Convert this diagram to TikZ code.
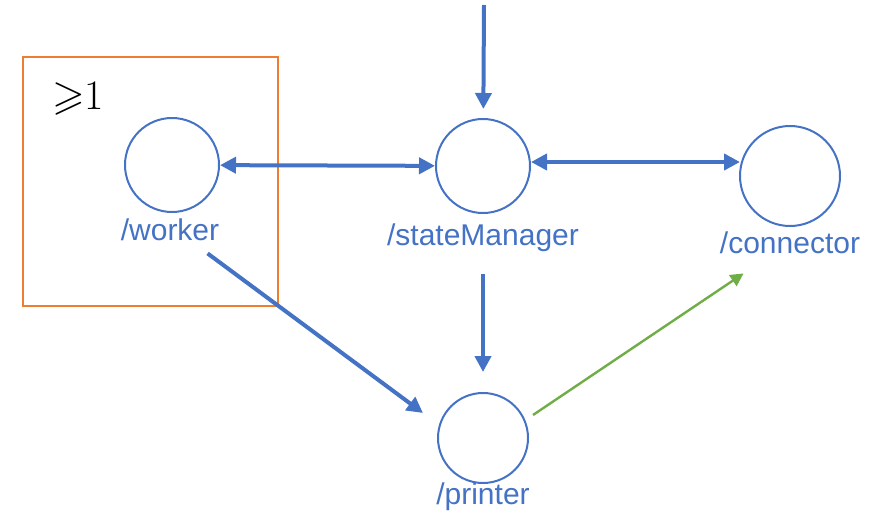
\documentclass[tikz,border=0pt]{standalone}
\usepackage{amssymb}
\usepackage{fontspec}
\setsansfont{Liberation Sans}
\usetikzlibrary{arrows.meta,calc}
\definecolor{mblue}{HTML}{4472C4}
\definecolor{morange}{HTML}{ED7D31}
\definecolor{mgreen}{HTML}{70AD47}
\begin{document}
\begin{tikzpicture}[x=0.5pt,y=-0.5pt,
  proc/.style={circle,draw=mblue,line width=1pt,inner sep=0pt,minimum size=#1},
  lbl/.style={text=mblue,inner sep=0pt,font=\sffamily\fontsize{15}{18}\selectfont},
  flow/.style={draw=mblue,line width=2pt,-{Triangle[length=8pt,width=8pt]}},
  dflow/.style={draw=mblue,line width=2pt,{Triangle[length=8pt,width=8pt]}-{Triangle[length=8pt,width=8pt]}},
  gflow/.style={draw=mgreen,line width=1.2pt,-{Triangle[length=6.5pt,width=6.5pt]}}]
\useasboundingbox (0,0) rectangle (872,524);
\node (grp) [draw=morange,line width=1pt,inner sep=0pt,minimum width=127.5pt,minimum height=124.5pt] at (150.5,181.5) {};
\node (cnt) at (78,98) {\fontsize{21}{24}\selectfont$\geqslant$1};
\node (w)  [proc=47pt] at (172,165) {};
\node (sm) [proc=47pt] at (483,166) {};
\node (cn) [proc=50pt] at (790,176) {};
\node (pr) [proc=45pt] at (483,438) {};
\node (wl)  [lbl] at (170,230) {/worker};
\node (sml) [lbl] at (483,238) {/stateManager};
\node (cnl) [lbl] at (790,243) {/connector};
\node (prl) [lbl] at (483,497) {/printer};
\coordinate (top) at (484,5);
\draw[flow,shorten >=4.5pt] (top) -- (sm);
\draw[dflow] (w) -- (sm);
\draw[dflow] ($(sm.east)+(0,-4)$) -- ($(sm.east -| cn.west)+(1,-4)$);
\draw[flow,shorten <=11pt,shorten >=10pt] (sml.south -| sm) -- (pr);
\draw[flow] ($(wl.south east)+(-12,12)$) -- ($(pr.west)+(-14,-25)$);
\draw[gflow] ($(pr.east)+(4,-23)$) -- ($(cnl.south west)+(24,19)$);
\end{tikzpicture}
\end{document}
